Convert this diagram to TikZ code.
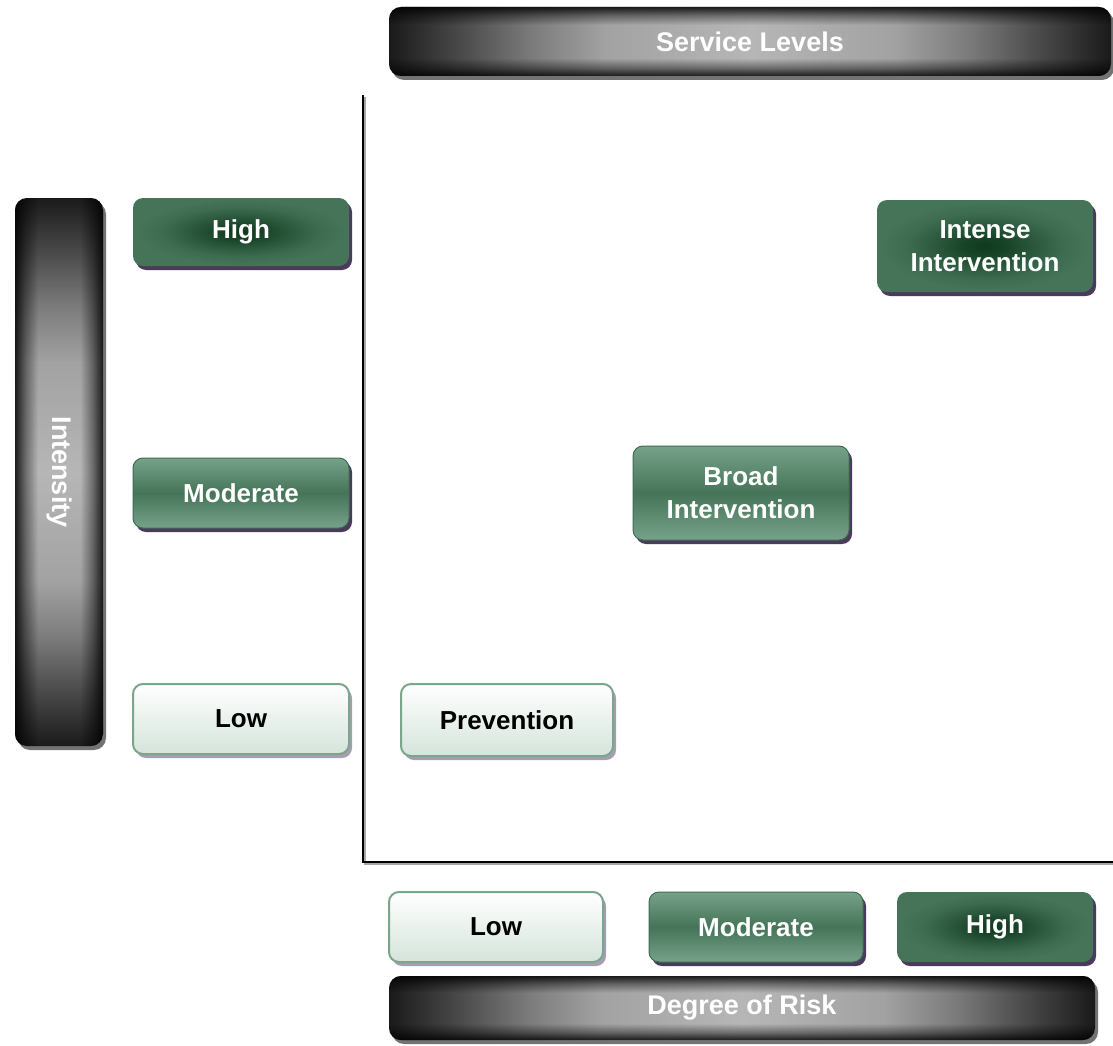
\documentclass[tikz,border=0pt]{standalone}
\usepackage{fontspec}
\setmainfont{Liberation Sans}
\usetikzlibrary{shadows,fadings}

\definecolor{gbase}{HTML}{457458}
\definecolor{gdark}{HTML}{0F3A1E}
\definecolor{glight}{HTML}{76A28A}
\definecolor{gborder}{HTML}{3E6B52}
\definecolor{lowbot}{HTML}{D5E4DB}
\definecolor{lowborder}{HTML}{7BA68B}
\definecolor{shpurple}{HTML}{4A3B5C}
\definecolor{shlight}{HTML}{A69DB0}
\definecolor{bdark}{HTML}{1A1A1A}
\definecolor{bq}{HTML}{4A4A4A}
\definecolor{bmid}{HTML}{7C7C7C}
\definecolor{bhi}{HTML}{A2A2A2}
\definecolor{blight}{HTML}{B6B6B6}

\pgfdeclareradialshading{greenglow}{\pgfpoint{0bp}{0bp}}{color(0bp)=(gdark); color(5bp)=(gdark!85!gbase); color(11bp)=(gdark!50!gbase); color(18bp)=(gdark!15!gbase); color(24bp)=(gbase); color(50bp)=(gbase)}
\pgfdeclarehorizontalshading{barh}{100bp}{color(0bp)=(bdark); color(25bp)=(bdark); color(30bp)=(bq); color(35bp)=(bmid); color(40bp)=(bhi); color(50bp)=(blight); color(60bp)=(bhi); color(65bp)=(bmid); color(70bp)=(bq); color(75bp)=(bdark); color(100bp)=(bdark)}
\pgfdeclareverticalshading{barv}{100bp}{color(0bp)=(bdark); color(25bp)=(bdark); color(30bp)=(bq); color(35bp)=(bmid); color(40bp)=(bhi); color(50bp)=(blight); color(60bp)=(bhi); color(65bp)=(bmid); color(70bp)=(bq); color(75bp)=(bdark); color(100bp)=(bdark)}
\pgfdeclareverticalshading{tbmask}{100bp}{color(0bp)=(white!85!black); color(37.5bp)=(white!85!black); color(40.5bp)=(white!40!black); color(44bp)=(black); color(56bp)=(black); color(59.5bp)=(white!40!black); color(62.5bp)=(white!85!black); color(100bp)=(white!85!black)}
\pgfdeclarehorizontalshading{lrmask}{100bp}{color(0bp)=(white!85!black); color(37.5bp)=(white!85!black); color(40.5bp)=(white!40!black); color(44bp)=(black); color(56bp)=(black); color(59.5bp)=(white!40!black); color(62.5bp)=(white!85!black); color(100bp)=(white!85!black)}

\begin{tikzfadingfrompicture}[name=tbfade]
  \shade[shading=tbmask] (-50bp,-50bp) rectangle (50bp,50bp);
\end{tikzfadingfrompicture}
\begin{tikzfadingfrompicture}[name=lrfade]
  \shade[shading=lrmask] (-50bp,-50bp) rectangle (50bp,50bp);
\end{tikzfadingfrompicture}

\tikzset{
  boxbase/.style={rounded corners=10pt, inner sep=0pt, align=center,
    font=\fontsize{26}{33}\selectfont\bfseries},
  darkshadow/.style={general shadow={fill=shpurple, shadow xshift=3pt, shadow yshift=-4pt}},
  lightshadow/.style={general shadow={fill=shlight, shadow xshift=3pt, shadow yshift=-4pt}},
  hibox/.style={boxbase, darkshadow, shading=greenglow, text=white},
  modbox/.style={boxbase, darkshadow, top color=glight, bottom color=glight, middle color=gbase, draw=gborder, line width=1pt, text=white},
  lowbox/.style={boxbase, lightshadow, top color=white, bottom color=lowbot, draw=lowborder, line width=2pt, text=black},
  barshadow/.style={general shadow={fill=black!55, shadow xshift=3pt, shadow yshift=-4pt}},
  barH/.style={rounded corners=12pt, inner sep=0pt, barshadow, shading=barh, text=white,
    font=\fontsize{27}{30}\selectfont\bfseries,
    path picture={\fill[black, path fading=tbfade] (path picture bounding box.south west) rectangle (path picture bounding box.north east);}},
  barV/.style={rounded corners=12pt, inner sep=0pt, barshadow, shading=barv, text=white,
    font=\fontsize{27}{30}\selectfont\bfseries,
    path picture={\fill[black, path fading=lrfade] (path picture bounding box.south west) rectangle (path picture bounding box.north east);}},
  axisline/.style={line width=2pt, black},
  axisshadow/.style={line width=2pt, black!35},
}

\begin{document}
\begin{tikzpicture}[x=1pt,y=-1pt]
\useasboundingbox (0,0) rectangle (1113,1046);

% bars
\node[barH, minimum width=722pt, minimum height=69pt] (svc) at (750,41.5) {Service Levels};
\node[barV, minimum width=88pt, minimum height=548pt] (intens) at (59,472) {\rotatebox{-90}{Intensity}};
\node[barH, minimum width=706pt, minimum height=64pt] (risk) at (742,1008) {Degree of Risk};

% axes
\coordinate (ytop) at (363,95);
\coordinate (orig) at (363,862);
\coordinate (xend) at (1113,862);
\draw[axisshadow] ([shift={(2,2)}]ytop) -- ([shift={(2,2)}]orig) -- ([shift={(0,2)}]xend);
\draw[axisline] (ytop) -- (orig) -- (xend);

% intensity levels
\node[hibox, minimum width=216pt, minimum height=68pt] (ihigh) at (241,232) {High};
\node[modbox, minimum width=216pt, minimum height=70pt] (imod) at (241,493) {Moderate};
\node[lowbox, minimum width=216pt, minimum height=70pt] (ilow) at (241,719) {Low};

% risk levels
\node[lowbox, minimum width=214pt, minimum height=70pt] (rlow) at (496,927) {Low};
\node[modbox, minimum width=214pt, minimum height=70pt] (rmod) at (756,927) {Moderate};
\node[hibox, minimum width=196pt, minimum height=70pt] (rhigh) at (995,927) {High};

% services
\node[hibox, minimum width=216pt, minimum height=92pt] (intense) at (985,246) {Intense\\Intervention};
\node[modbox, minimum width=216pt, minimum height=94pt] (broad) at (741,493) {Broad\\Intervention};
\node[lowbox, minimum width=212pt, minimum height=72pt] (prev) at (507,720) {Prevention};
\end{tikzpicture}
\end{document}
